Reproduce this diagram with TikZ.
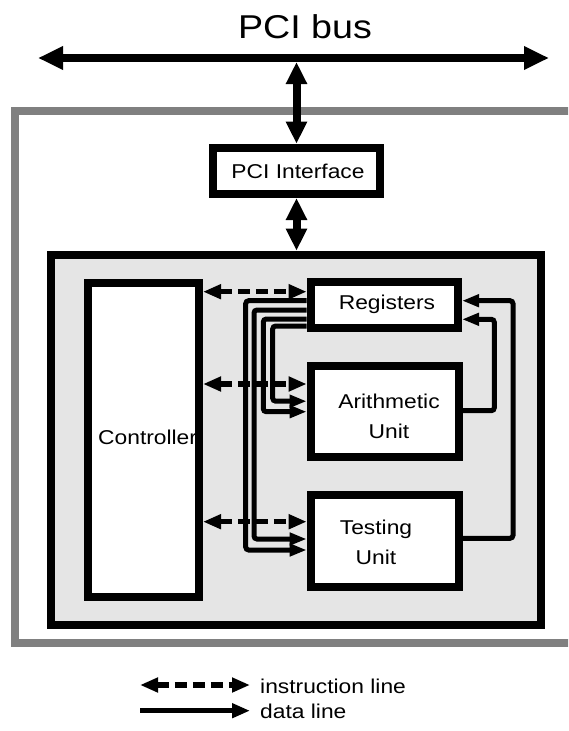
\documentclass[tikz,border=0pt]{standalone}
\usepackage{fontspec}
\setmainfont{Liberation Sans}[FakeStretch=1.14]
\usetikzlibrary{arrows.meta}
\definecolor{outergray}{RGB}{128,128,128}
\definecolor{coregray}{RGB}{229,229,229}
\begin{document}
\begin{tikzpicture}[x=1pt,y=-1pt,
  box/.style={draw=black, line width=8pt, fill=white, inner sep=0pt},
  lbl/.style={inner sep=0pt, font=\fontsize{20}{30}\selectfont, align=center},
  bigarrow/.style={line width=8pt, {Triangle[length=25pt,width=22pt]}-{Triangle[length=25pt,width=22pt]}},
  vertarrow/.style={line width=8pt, {Triangle[length=22pt,width=20pt]}-{Triangle[length=22pt,width=20pt]}},
  instr/.style={line width=5.5pt, dash pattern=on 12pt off 6pt, {Triangle[length=18pt,width=14pt]}-{Triangle[length=18pt,width=14pt]}},
  dataln/.style={line width=5pt, rounded corners=3pt, -{Triangle[length=17pt,width=12pt]}}
]
\path[use as bounding box, clip] (0,0) rectangle (568,731);

% outer gray frame
\draw[outergray, line width=8pt, fill=white] (14.7,111.3) rectangle (590,642.7);

% title and bus
\node[inner sep=0pt, anchor=base, font=\fontsize{33}{36}\selectfont] (title) at (305,38) {PCI bus};
\coordinate (busL) at (38,58);
\coordinate (busR) at (549,58);
\coordinate (busTap) at (296.5,62);
\draw[bigarrow] (busL) -- (busR);

% PCI interface
\node[box, minimum width=167pt, minimum height=46.3pt, font=\fontsize{20}{24}\selectfont, text depth=0pt] (pci) at (296.5,170.85) {\hspace{3pt}PCI Interface};
\draw[vertarrow] (busTap) -- (pci.north);

% core
\node[box, fill=coregray, minimum width=490pt, minimum height=370pt] (core) at (296.3,439.7) {};
\draw[vertarrow] (pci.south) -- (pci.south |- core.north);

% inner units
\node[box, minimum width=110.7pt, minimum height=314pt] (ctrl) at (143.65,439.7) {};
\node[box, minimum width=147.3pt, minimum height=46pt] (reg) at (384.35,305.3) {};
\node[box, minimum width=148pt, minimum height=91.8pt] (alu) at (384.7,411.4) {};
\node[box, minimum width=148pt, minimum height=92pt] (test) at (384.7,541.3) {};

\node[lbl, anchor=west] (ctrltxt) at (98,437) {Controller};
\node[lbl] (regtxt) at (387,304) {Registers};
\node[lbl] (alutxt) at (389,416.5) {Arithmetic\\Unit};
\node[lbl] (testtxt) at (376,542.5) {Testing\\Unit};

% instruction lines
\draw[instr] (ctrl.east |- 0,291.7) -- (reg.west |- 0,291.7);
\draw[instr] (ctrl.east |- 0,384) -- (alu.west |- 0,384);
\draw[instr] (ctrl.east |- 0,521.7) -- (test.west |- 0,521.7);

% data lines from registers
\draw[dataln] (reg.west |- 0,300.7) -- (245.7,300.7) -- (245.7,550) -- (test.west |- 0,550);
\draw[dataln] (reg.west |- 0,310) -- (254,310) -- (254,539) -- (test.west |- 0,539);
\draw[dataln] (reg.west |- 0,319) -- (263.3,319) -- (263.3,411.7) -- (alu.west |- 0,411.7);
\draw[dataln] (reg.west |- 0,326) -- (272.7,326) -- (272.7,401.2) -- (alu.west |- 0,401.2);

% feedback lines
\draw[dataln] (test.east |- 0,538.3) -- (513,538.3) -- (513,300.7) -- (reg.east |- 0,300.7);
\draw[dataln] (alu.east |- 0,410.7) -- (494.3,410.7) -- (494.3,319.3) -- (reg.east |- 0,319.3);

% legend
\coordinate (lgA1) at (140,685);
\coordinate (lgA2) at (250,685);
\coordinate (lgB1) at (140,710.7);
\coordinate (lgB2) at (250,710.7);
\draw[instr] (lgA1) -- (lgA2);
\draw[line width=5.5pt, -{Triangle[length=18pt,width=14pt]}] (lgB1) -- (lgB2);
\node[lbl, anchor=west] (lgtxtA) at (260,686) {instruction line};
\node[lbl, anchor=west] (lgtxtB) at (260,711) {data line};
\end{tikzpicture}
\end{document}
